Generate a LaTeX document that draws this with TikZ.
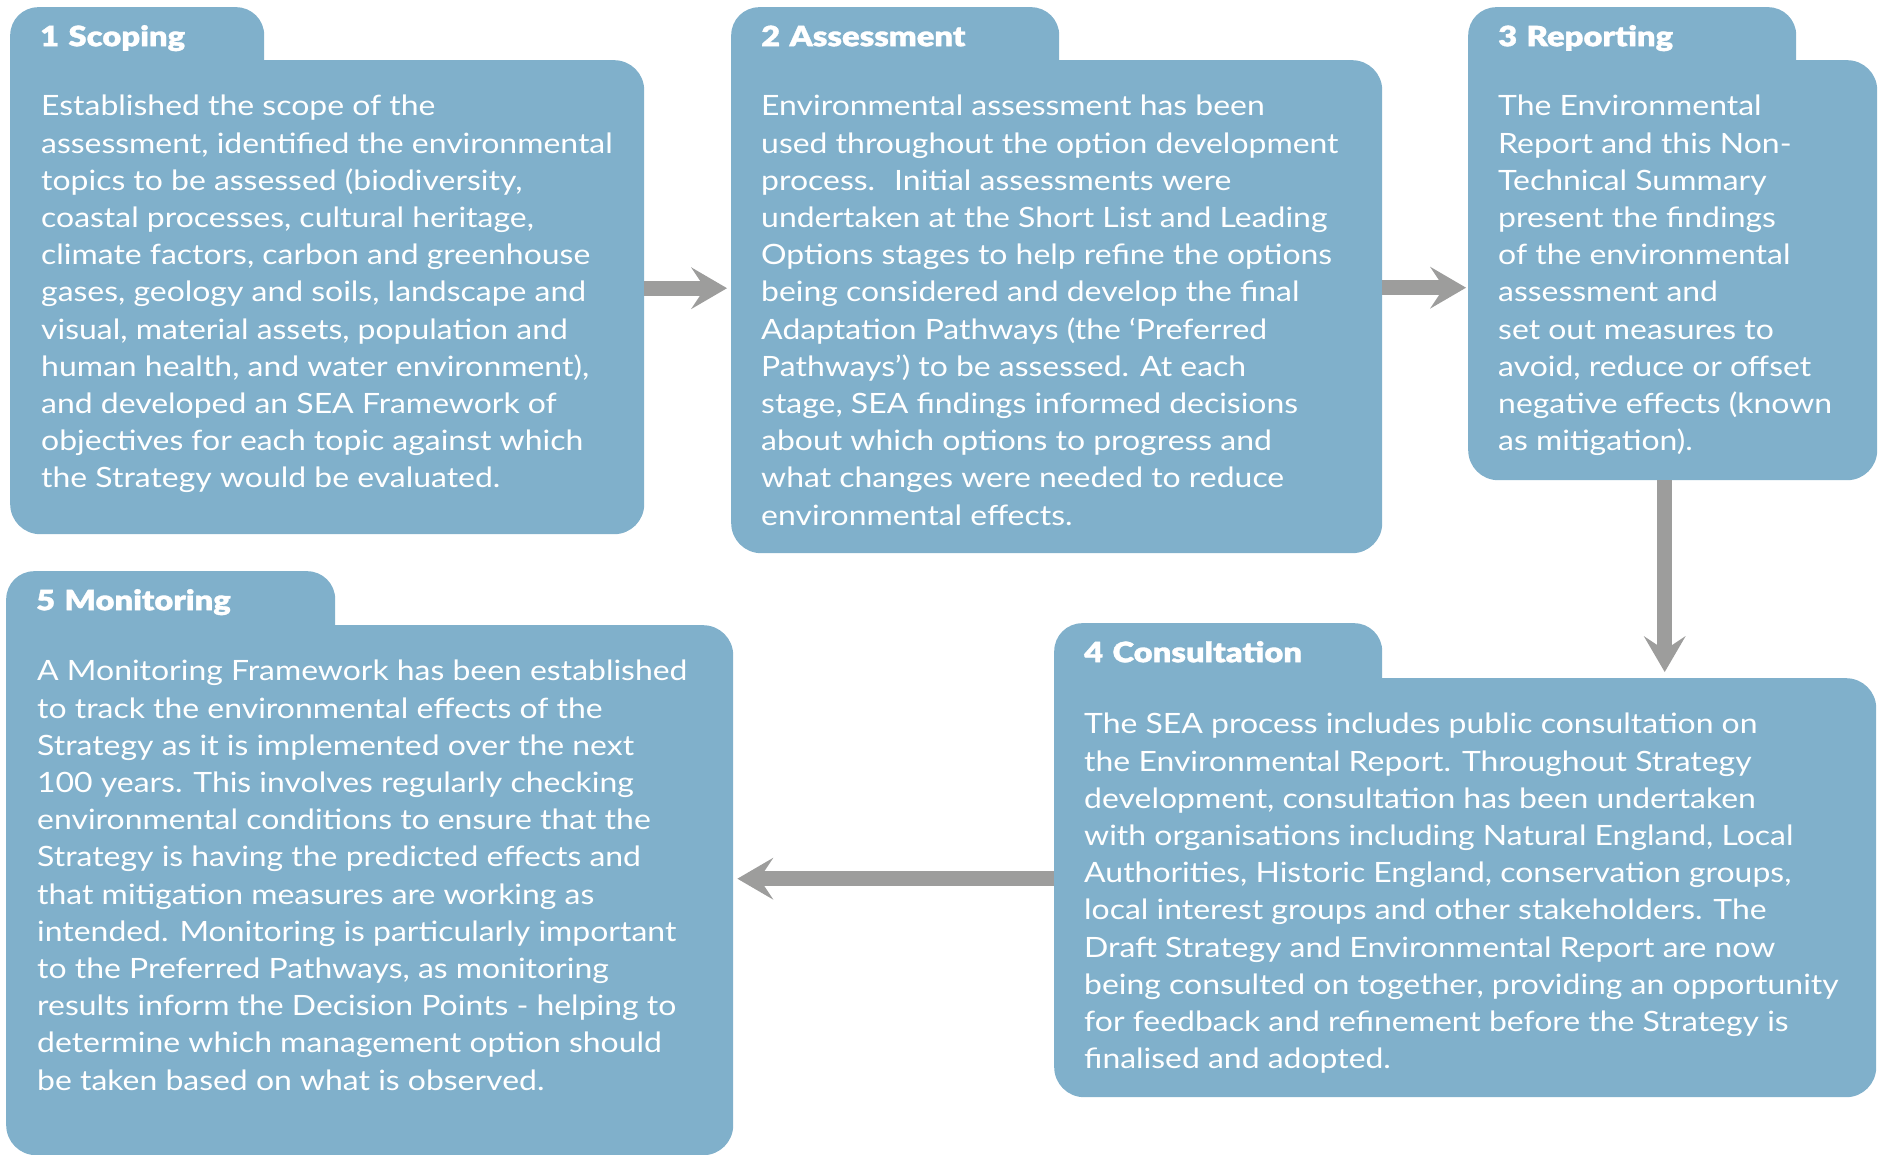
\documentclass[tikz,border=0pt]{standalone}
\usepackage{fontspec}
\usepackage{tikz}
\usepackage{xcolor}
\usetikzlibrary{arrows.meta,positioning,calc}
\setmainfont{Lato}[FakeStretch=1.14]
\newfontfamily\tabfamily{Lato}[UprightFont={* Black}, FakeStretch=1.17, FakeBold=1.2]
\definecolor{seablue}{RGB}{128,176,203}
\definecolor{flowgrey}{RGB}{157,157,156}
\newcommand{\blurbfont}{\fontsize{28}{37.2}\selectfont}
\newcommand{\tabfont}{\tabfamily\fontsize{28}{32}\selectfont}

\begin{document}
\begin{tikzpicture}[x=1pt, y=-1pt,
    tab/.style={fill=seablue, rounded corners=28pt, anchor=north west, inner xsep=30pt, inner ysep=0pt,
        text height=39pt, text depth=74pt, align=left, text=white, font=\tabfont},
    panel/.style={fill=seablue, rounded corners=30pt, anchor=north west, inner sep=0pt},
    blurb/.style={inner sep=0pt, align=left, text=white, font=\blurbfont},
    flow/.style={draw=flowgrey, line width=15pt, -{Stealth[length=36pt, width=42pt, inset=14pt, line width=0pt]}}]
    \useasboundingbox (0,0) rectangle (1878,1155);

    % Step panels
    \node[panel, minimum width=634pt, minimum height=474pt] (scoping) at (10,60) {};
    \node[panel, minimum width=651pt, minimum height=493pt] (assessment) at (731,60) {};
    \node[panel, minimum width=409pt, minimum height=420pt] (reporting) at (1468,60) {};
    \node[panel, minimum width=822pt, minimum height=419pt] (consultation) at (1054,678) {};
    \node[panel, minimum width=727pt, minimum height=530pt] (monitoring) at (6,625) {};

    % Tabs with titles
    \node[tab, text width=194pt] (scopingtab) at (10,7) {1 Scoping};
    \node[tab, text width=268pt] (assessmenttab) at (731,7) {2 Assessment};
    \node[tab, text width=268pt] (reportingtab) at (1468,7) {3 Reporting};
    \node[tab, text width=268pt] (consultationtab) at (1054,623) {4 Consultation};
    \node[tab, text width=269pt] (monitoringtab) at (6,571) {5 Monitoring};

    % Texts
    \node[blurb, below right=35pt and 31pt of scoping.north west] (scopingtext) {Established the scope of the\\
        assessment, identified the environmental\\
        topics to be assessed (biodiversity,\\
        coastal processes, cultural heritage,\\
        climate factors, carbon and greenhouse\\
        gases, geology and soils, landscape and\\
        visual, material assets, population and\\
        human health, and water environment),\\
        and developed an SEA Framework of\\
        objectives for each topic against which\\
        the Strategy would be evaluated.};
    \node[blurb, below right=35pt and 30pt of assessment.north west] (assessmenttext) {Environmental assessment has been\\
        used throughout the option development\\
        process.~ Initial assessments were\\
        undertaken at the Short List and Leading\\
        Options stages to help refine the options\\
        being considered and develop the final\\
        Adaptation Pathways (the ‘Preferred\\
        Pathways’) to be assessed. At each\\
        stage, SEA findings informed decisions\\
        about which options to progress and\\
        what changes were needed to reduce\\
        environmental effects.};
    \node[blurb, below right=35pt and 30pt of reporting.north west] (reportingtext) {The Environmental\\
        Report and this Non-\\
        Technical Summary\\
        present the findings\\
        of the environmental\\
        assessment and\\
        set out measures to\\
        avoid, reduce or offset\\
        negative effects (known\\
        as mitigation).};
    \node[blurb, below right=35pt and 30pt of consultation.north west] (consultationtext) {The SEA process includes public consultation on\\
        the Environmental Report. Throughout Strategy\\
        development, consultation has been undertaken\\
        with organisations including Natural England, Local\\
        Authorities, Historic England, conservation groups,\\
        local interest groups and other stakeholders. The\\
        Draft Strategy and Environmental Report are now\\
        being consulted on together, providing an opportunity\\
        for feedback and refinement before the Strategy is\\
        finalised and adopted.};
    \node[blurb, below right=35pt and 31pt of monitoring.north west] (monitoringtext) {A Monitoring Framework has been established\\
        to track the environmental effects of the\\
        Strategy as it is implemented over the next\\
        100 years. This involves regularly checking\\
        environmental conditions to ensure that the\\
        Strategy is having the predicted effects and\\
        that mitigation measures are working as\\
        intended. Monitoring is particularly important\\
        to the Preferred Pathways, as monitoring\\
        results inform the Decision Points - helping to\\
        determine which management option should\\
        be taken based on what is observed.};

    % Arrows
    \draw[flow, shorten >=4pt] ([yshift=9pt]scoping.east) -- ([yshift=9pt]scoping.east -| assessment.west);
    \draw[flow, shorten >=2pt] ([yshift=19pt]assessment.east) -- ([yshift=19pt]assessment.east -| reporting.west);
    \draw[flow, shorten >=6pt] ([xshift=-8pt]reporting.south) -- ([xshift=-8pt]reporting.south |- consultation.north);
    \draw[flow, shorten >=4pt] ([yshift=9pt]consultation.west) -- ([yshift=9pt]consultation.west -| monitoring.east);
\end{tikzpicture}
\end{document}
